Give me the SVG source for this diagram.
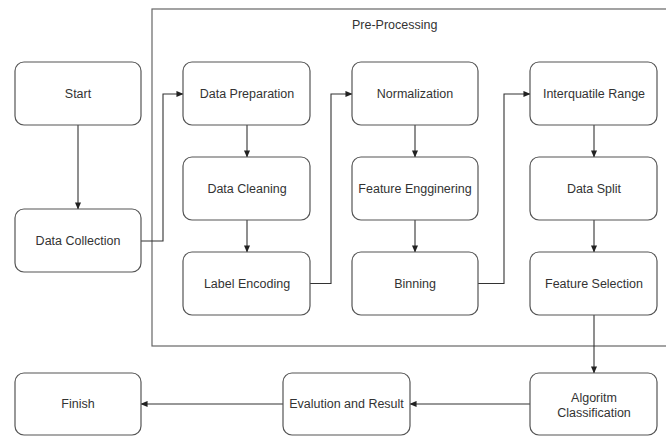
<svg xmlns="http://www.w3.org/2000/svg" width="666" height="436" viewBox="0 0 666 436">
<style>
.box{fill:#fff;stroke:#555;stroke-width:1.2}
.cont{fill:none;stroke:#666;stroke-width:1.2}
.lbl{font-family:"Liberation Sans",Arial,sans-serif;font-size:12.5px;fill:#333;text-anchor:middle}
.ttl{font-family:"Liberation Sans",Arial,sans-serif;font-size:12.5px;fill:#333}
.edge{fill:none;stroke:#333;stroke-width:1.1;marker-end:url(#ah)}
</style>
<defs>
<marker id="ah" viewBox="0 0 8 8" refX="7.5" refY="4" markerWidth="7" markerHeight="7" markerUnits="userSpaceOnUse" orient="auto">
<path d="M0,0.5 L8,4 L0,7.5 Z" fill="#222"/>
</marker>
</defs>
<g id="preprocessing">
<rect class="cont" x="152" y="9" width="520" height="337"/>
<text class="ttl" x="352" y="29">Pre-Processing</text>
</g>
<g id="edges">
<path class="edge" d="M78,125 V209"/>
<path class="edge" d="M141,241 H163 V94 H183"/>
<path class="edge" d="M247,125 V157"/>
<path class="edge" d="M247,220 V252"/>
<path class="edge" d="M310,283.5 H331 V94 H352"/>
<path class="edge" d="M415,125 V157"/>
<path class="edge" d="M415,220 V252"/>
<path class="edge" d="M478,283.5 H504 V94 H530"/>
<path class="edge" d="M594,125 V157"/>
<path class="edge" d="M594,220 V252"/>
<path class="edge" d="M594,315 V373"/>
<path class="edge" d="M530,404 H410"/>
<path class="edge" d="M283,404 H141"/>
</g>
<g id="start"><rect class="box" x="15" y="62" width="126" height="63" rx="9"/><text class="lbl" x="78" y="98">Start</text></g>
<g id="data-collection"><rect class="box" x="15" y="209" width="126" height="63" rx="9"/><text class="lbl" x="78" y="245">Data Collection</text></g>
<g id="data-preparation"><rect class="box" x="183" y="62" width="127" height="63" rx="9"/><text class="lbl" x="247" y="98">Data Preparation</text></g>
<g id="data-cleaning"><rect class="box" x="183" y="157" width="127" height="63" rx="9"/><text class="lbl" x="247" y="193">Data Cleaning</text></g>
<g id="label-encoding"><rect class="box" x="183" y="252" width="127" height="63" rx="9"/><text class="lbl" x="247" y="288">Label Encoding</text></g>
<g id="normalization"><rect class="box" x="352" y="62" width="126" height="63" rx="9"/><text class="lbl" x="415" y="98">Normalization</text></g>
<g id="feature-engineering"><rect class="box" x="352" y="157" width="126" height="63" rx="9"/><text class="lbl" x="415" y="193">Feature Engginering</text></g>
<g id="binning"><rect class="box" x="352" y="252" width="126" height="63" rx="9"/><text class="lbl" x="415" y="288">Binning</text></g>
<g id="interquartile-range"><rect class="box" x="530" y="62" width="127" height="63" rx="9"/><text class="lbl" x="594" y="98">Interquatile Range</text></g>
<g id="data-split"><rect class="box" x="530" y="157" width="127" height="63" rx="9"/><text class="lbl" x="594" y="193">Data Split</text></g>
<g id="feature-selection"><rect class="box" x="530" y="252" width="127" height="63" rx="9"/><text class="lbl" x="594" y="288">Feature Selection</text></g>
<g id="algoritm-classification"><rect class="box" x="530" y="373" width="127" height="62" rx="9"/><text class="lbl" x="594" y="402">Algoritm</text><text class="lbl" x="594" y="417">Classification</text></g>
<g id="evaluation"><rect class="box" x="283" y="373" width="127" height="62" rx="9"/><text class="lbl" x="346.5" y="408">Evalution and Result</text></g>
<g id="finish"><rect class="box" x="15" y="373" width="126" height="62" rx="9"/><text class="lbl" x="78" y="408">Finish</text></g>
</svg>
